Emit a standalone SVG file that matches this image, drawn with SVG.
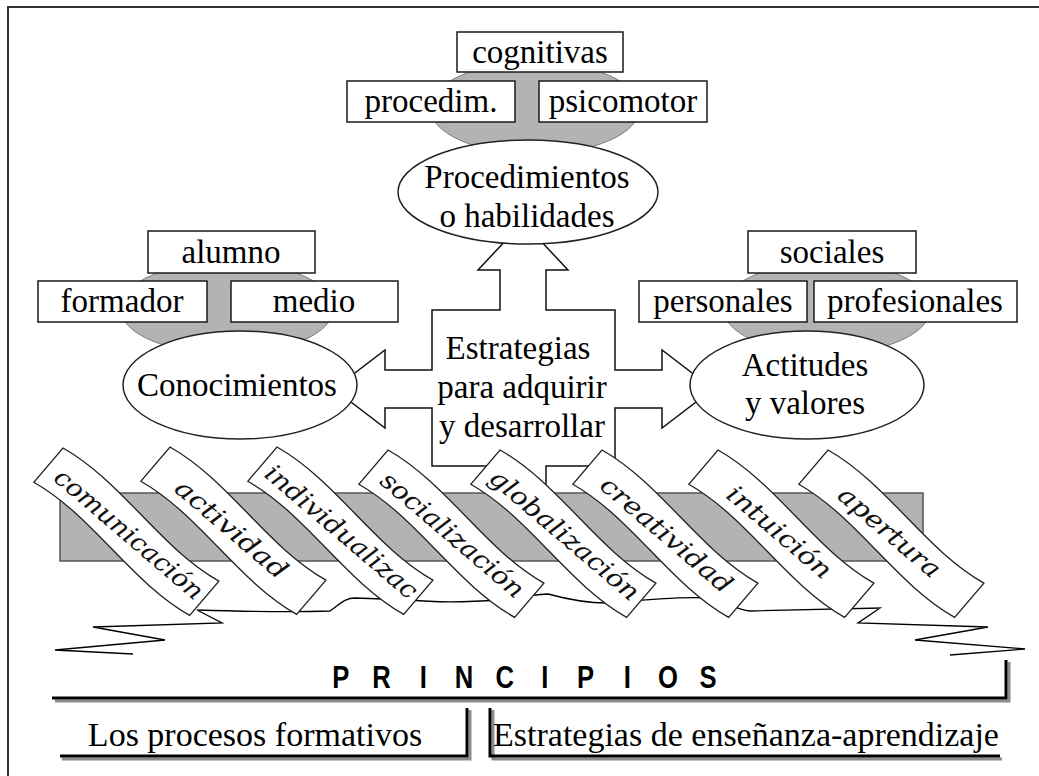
<svg xmlns="http://www.w3.org/2000/svg" xmlns:xlink="http://www.w3.org/1999/xlink" width="1039" height="776" viewBox="0 0 1039 776">
<style>
.box{fill:#fff;stroke:#1a1a1a;stroke-width:1.5}
.gray{fill:#b3b3b3;stroke:#7a7a7a;stroke-width:1}
.ell{fill:#fff;stroke:#222;stroke-width:1.5}
.t{font-family:"Liberation Serif","Times New Roman",serif;font-size:33px;fill:#000;text-anchor:middle}
.tb{font-family:"Liberation Serif","Times New Roman",serif;font-size:34px;fill:#000;text-anchor:middle}
.rib{fill:#fff;stroke:#222;stroke-width:1.3}
.rt{font-family:"DejaVu Serif","Liberation Serif",serif;font-style:italic;font-size:25px;fill:#111;text-anchor:middle}
.line{fill:none;stroke:#000;stroke-width:1.3}
.thick{fill:none;stroke:#000;stroke-width:3}
.shadow{fill:none;stroke:#8c8c8c;stroke-width:3}
.pr{font-family:"Liberation Sans",Arial,sans-serif;font-weight:bold;font-size:32px;fill:#000;text-anchor:middle}
</style>
<defs>
<path id="ribbon" class="rib" d="M0,0 C68,-13 137,13 205,0 L205,45 C137,58 68,32 0,45 Z"/>
</defs>
<rect x="0" y="0" width="1039" height="776" fill="#fff"/>
<rect id="frame" x="8" y="7" width="1100" height="900" fill="none" stroke="#333" stroke-width="2"/>

<g id="connectors">
<path id="cross-arrow" fill="#fff" stroke="#111" stroke-width="1.5" d="M523,222 L568,270 L546,270 L546,310 L615,310 L615,370 L662,370 L662,350 L713,389 L662,428 L662,408 L615,408 L615,466 L546,466 L546,500 L500,500 L500,466 L432,466 L432,408 L385,408 L385,428 L334,389 L385,350 L385,370 L432,370 L432,310 L500,310 L500,270 L478,270 Z"/>
</g>

<g id="node-procedimientos">
<ellipse class="gray" cx="535" cy="108" rx="105" ry="46"/>
<ellipse class="ell" cx="528" cy="192" rx="130" ry="52"/>
<text class="t" x="527" y="188">Procedimientos</text>
<text class="t" x="527" y="227">o habilidades</text>
<rect class="box" x="457" y="32" width="166" height="40"/>
<text class="t" x="540" y="63">cognitivas</text>
<rect class="box" x="347" y="81" width="168" height="41"/>
<text class="t" x="431" y="112">procedim.</text>
<rect class="box" x="539" y="81" width="168" height="41"/>
<text class="t" x="623" y="112">psicomotor</text>
</g>

<g id="node-conocimientos">
<ellipse class="gray" cx="227" cy="308" rx="107" ry="46"/>
<ellipse class="ell" cx="240" cy="385" rx="117" ry="54"/>
<text class="t" x="237" y="396">Conocimientos</text>
<rect class="box" x="148" y="231" width="167" height="42"/>
<text class="t" x="231" y="263">alumno</text>
<rect class="box" x="38" y="281" width="169" height="41"/>
<text class="t" x="122" y="312">formador</text>
<rect class="box" x="231" y="281" width="167" height="41"/>
<text class="t" x="314" y="312">medio</text>
</g>

<g id="node-actitudes">
<ellipse class="gray" cx="827" cy="308" rx="104" ry="46"/>
<ellipse class="ell" cx="807" cy="385" rx="117" ry="54"/>
<text class="t" x="805" y="376">Actitudes</text>
<text class="t" x="805" y="414">y valores</text>
<rect class="box" x="748" y="231" width="168" height="42"/>
<text class="t" x="832" y="263">sociales</text>
<rect class="box" x="639" y="281" width="168" height="41"/>
<text class="t" x="723" y="312">personales</text>
<rect class="box" x="814" y="281" width="203" height="41"/>
<text class="t" x="915" y="312">profesionales</text>
</g>

<g id="node-estrategias">
<text class="t" x="518" y="359">Estrategias</text>
<text class="t" x="522" y="398">para adquirir</text>
<text class="t" x="522" y="437">y desarrollar</text>
</g>

<g id="principles-band">
<rect x="60" y="493" width="863" height="68" fill="#b3b3b3" stroke="#555" stroke-width="1.5"/>
<path class="line" d="M133,654 L55,650 L165,640 L93,627 L222,623 L197,610 C260,612 300,612 330,611 C340,604 345,598 355,598 L410,600 C440,603 470,602 500,600 C520,598 535,594 548,594 C570,600 590,603 607,603 C640,600 680,596 709,598 C725,600 735,610 750,611 L880,608 L858,623 L988,627 L915,640 L1025,649 L950,655"/>
</g>

<g id="ribbons">
<g id="r-comunicacion" transform="translate(63,448) rotate(40.5)"><use xlink:href="#ribbon" href="#ribbon"/><text class="rt" x="106" y="31" textLength="187" lengthAdjust="spacingAndGlyphs">comunicación</text></g>
<g id="r-actividad" transform="translate(170,447) rotate(40.5)"><use xlink:href="#ribbon" href="#ribbon"/><text class="rt" x="100" y="31" textLength="139" lengthAdjust="spacingAndGlyphs">actividad</text></g>
<g id="r-individualizac" transform="translate(277,447) rotate(40.5)"><use xlink:href="#ribbon" href="#ribbon"/><text class="rt" x="104" y="31" textLength="192" lengthAdjust="spacingAndGlyphs">individualizac</text></g>
<g id="r-socializacion" transform="translate(388,450) rotate(40.5)"><use xlink:href="#ribbon" href="#ribbon"/><text class="rt" x="104" y="31" textLength="180" lengthAdjust="spacingAndGlyphs">socialización</text></g>
<g id="r-globalizacion" transform="translate(500,450) rotate(40.5)"><use xlink:href="#ribbon" href="#ribbon"/><text class="rt" x="104" y="31" textLength="188" lengthAdjust="spacingAndGlyphs">globalización</text></g>
<g id="r-creatividad" transform="translate(602,450) rotate(40.5)"><use xlink:href="#ribbon" href="#ribbon"/><text class="rt" x="104" y="31" textLength="165" lengthAdjust="spacingAndGlyphs">creatividad</text></g>
<g id="r-intuicion" transform="translate(718,450) rotate(40.5)"><use xlink:href="#ribbon" href="#ribbon"/><text class="rt" x="100" y="31" textLength="129" lengthAdjust="spacingAndGlyphs">intuición</text></g>
<g id="r-apertura" transform="translate(828,450) rotate(40.5)"><use xlink:href="#ribbon" href="#ribbon"/><text class="rt" x="100" y="31" textLength="126" lengthAdjust="spacingAndGlyphs">apertura</text></g>
</g>

<g id="principios">
<path class="shadow" d="M55,701 H1009 V662"/>
<path class="thick" d="M52,698 H1006 V660"/>
<text class="pr" transform="scale(0.8,1)" x="426 477 529 580 631 681 732 784 835 885" y="688">PRINCIPIOS</text>
</g>

<g id="procesos">
<path class="shadow" d="M62,759 H470 V710"/>
<path class="thick" d="M60,756 H467 V708"/>
<text class="tb" x="255" y="746">Los procesos formativos</text>
</g>

<g id="estrategias-ea">
<path class="shadow" d="M493,710 V759 H1002"/>
<path class="thick" d="M490,708 V756 H1000"/>
<text class="tb" x="746" y="746">Estrategias de enseñanza-aprendizaje</text>
</g>
</svg>
